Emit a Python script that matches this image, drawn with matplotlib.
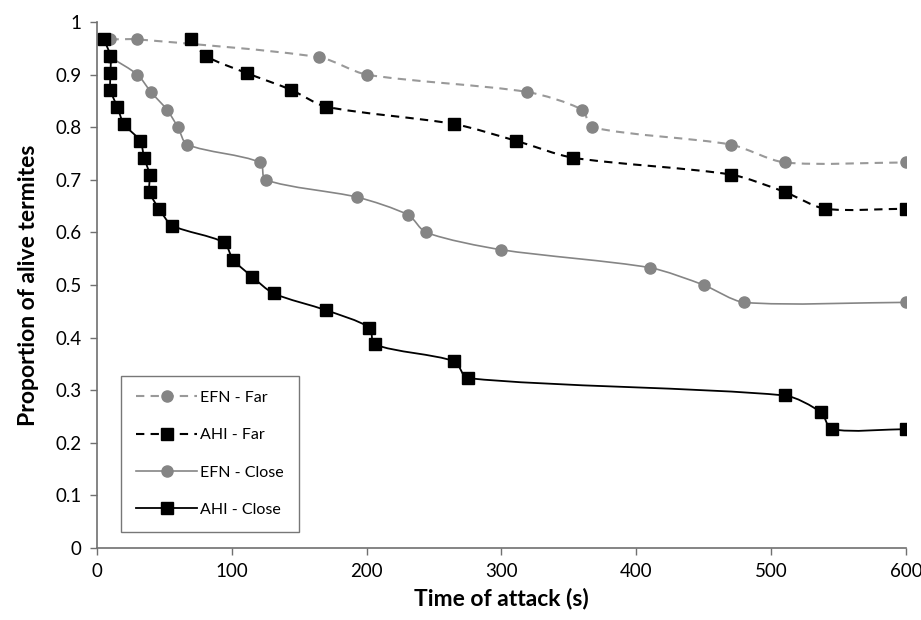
#!/usr/bin/env python3

import numpy as np
import matplotlib
matplotlib.use("Agg")
import matplotlib.pyplot as plt
from matplotlib.path import Path
from matplotlib.patches import PathPatch
from matplotlib.lines import Line2D

# data (time in s, proportion alive)
efn_far_t = [10, 30, 165, 200, 319, 360, 367, 470, 510, 600]
efn_far_p = [0.967, 0.967, 0.933, 0.900, 0.867, 0.833, 0.800, 0.767, 0.733, 0.733]

ahi_far_t = [70, 81, 111, 144, 170, 265, 311, 353, 470, 510, 540, 600]
ahi_far_p = [0.968, 0.935, 0.903, 0.871, 0.839, 0.806, 0.774, 0.742, 0.710, 0.677, 0.645, 0.645]

efn_close_t = [10, 30, 40, 52, 60, 67, 121, 125, 193, 231, 244, 300, 410, 450, 480, 600]
efn_close_p = [0.933, 0.900, 0.867, 0.833, 0.800, 0.767, 0.733, 0.700, 0.667, 0.633,
               0.600, 0.567, 0.533, 0.500, 0.467, 0.467]

ahi_close_t = [5, 10, 10, 10, 15, 20, 32, 35, 39, 39, 46, 56, 94, 101, 115, 131,
               170, 202, 206, 265, 275, 510, 537, 545, 600]
ahi_close_p = [0.968, 0.935, 0.903, 0.871, 0.839, 0.806, 0.774, 0.742, 0.710, 0.677,
               0.645, 0.613, 0.581, 0.548, 0.516, 0.484, 0.452, 0.419, 0.387, 0.355,
               0.323, 0.290, 0.258, 0.226, 0.226]

labels = ['EFN - Far', 'AHI - Far', 'EFN - Close', 'AHI - Close']

FONT = 'Lato'


def smooth_path(xs, ys, sx=809 / 600.0, sy=526.0, tension=0.8):
    '''Excel-like smoothed line: cubic bezier through every point,
    tangent handles limited to a third of the segment length.'''
    pts = np.column_stack([xs, ys]).astype(float)
    scl = np.array([sx, sy])
    q = pts * scl
    n = len(q)
    tang = []
    for i in range(n):
        a = q[i - 1] if i > 0 else q[i]
        b = q[i + 1] if i < n - 1 else q[i]
        d = b - a
        nrm = np.hypot(*d)
        tang.append(d / nrm if nrm > 0 else np.zeros(2))
    verts = [pts[0]]
    codes = [Path.MOVETO]
    for i in range(n - 1):
        seg = np.hypot(*(q[i + 1] - q[i])) * tension / 3.0
        c1 = (q[i] + tang[i] * seg) / scl
        c2 = (q[i + 1] - tang[i + 1] * seg) / scl
        verts += [c1, c2, pts[i + 1]]
        codes += [Path.CURVE4] * 3
    return Path(verts, codes)


def main():
    fig = plt.figure(figsize=(9.21, 6.20), dpi=100)
    ax = fig.add_axes([0.1053, 0.1161, 0.8784, 0.8484])

    grey_dash = '#999999'
    grey = '#858585'
    series = [
        (efn_far_t, efn_far_p, grey_dash, grey, (0, (4, 3)), 'o', 8.0, 1.5),
        (ahi_far_t, ahi_far_p, 'black', 'black', (0, (4, 3)), 's', 8.5, 1.5),
        (efn_close_t, efn_close_p, grey, grey, '-', 'o', 8.0, 1.2),
        (ahi_close_t, ahi_close_p, 'black', 'black', '-', 's', 8.5, 1.3),
    ]

    handles = []
    for k, (t, p, lc, mc, ls, mk, ms, lw) in enumerate(series):
        patch = PathPatch(smooth_path(t, p), facecolor='none', edgecolor=lc,
                          linewidth=lw, linestyle=ls, zorder=2 + 2 * k)
        ax.add_patch(patch)
        ax.plot(t, p, linestyle='none', marker=mk, markersize=ms,
                markerfacecolor=mc, markeredgecolor=mc, zorder=3 + 2 * k)
        handles.append(Line2D([], [], color=lc, linestyle=ls, linewidth=lw,
                              marker=mk, markersize=ms, markerfacecolor=mc,
                              markeredgecolor=mc))

    ax.set_xlim(0, 600)
    ax.set_ylim(0, 1)
    ax.set_xticks(np.arange(0, 601, 100))
    ax.set_yticks(np.arange(0, 1.01, 0.1))
    ax.set_yticklabels(['0'] + ['%.1f' % v for v in np.arange(0.1, 0.95, 0.1)] + ['1'])

    for side in ('top', 'right'):
        ax.spines[side].set_visible(False)
    for side in ('left', 'bottom'):
        ax.spines[side].set_color('#707070')
        ax.spines[side].set_linewidth(1.2)
    ax.tick_params(direction='out', length=5, width=1.0, color='#707070',
                   labelsize=13.5, pad=6)
    for lab in ax.get_xticklabels() + ax.get_yticklabels():
        lab.set_family(FONT)

    ax.set_xlabel('Time of attack (s)', fontsize=16.5, fontweight='bold',
                  family=FONT, labelpad=5)
    ax.set_ylabel('Proportion of alive termites', fontsize=16.5, fontweight='bold',
                  family=FONT, labelpad=12)

    leg = ax.legend(handles, labels, loc='lower left',
                    bbox_to_anchor=(0.03, 0.03), handlelength=3.8,
                    labelspacing=1.45, borderpad=0.95, handletextpad=0.2,
                    borderaxespad=0.0,
                    fancybox=False, prop={'family': FONT, 'size': 11.5})
    leg.get_frame().set_edgecolor('#555555')
    leg.get_frame().set_linewidth(1.0)

    fig.savefig('out.png', dpi=100)


if __name__ == "__main__":
    main()
